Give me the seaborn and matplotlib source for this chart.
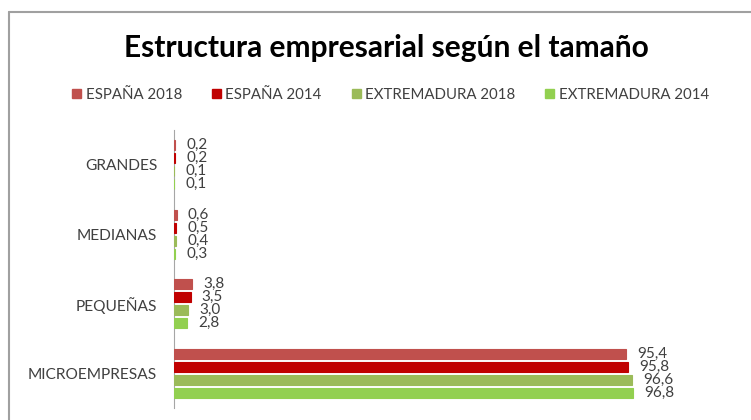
import pandas as pd
import matplotlib
matplotlib.use('Agg')
import matplotlib.pyplot as plt
import seaborn as sns
from matplotlib.lines import Line2D

# Datos
categorias = ['GRANDES', 'MEDIANAS', 'PEQUEÑAS', 'MICROEMPRESAS']
series = ['ESPAÑA 2018', 'ESPAÑA 2014', 'EXTREMADURA 2018', 'EXTREMADURA 2014']
espana_2018 = [0.2, 0.6, 3.8, 95.4]
espana_2014 = [0.2, 0.5, 3.5, 95.8]
extremadura_2018 = [0.1, 0.4, 3.0, 96.6]
extremadura_2014 = [0.1, 0.3, 2.8, 96.8]
colores = ['#C0504D', '#C00000', '#9BBB59', '#92D050']

valores = [espana_2018, espana_2014, extremadura_2018, extremadura_2014]
filas = []
for serie, vals in zip(series, valores):
    for cat, v in zip(categorias, vals):
        filas.append({'tamano': cat, 'serie': serie, 'valor': v})
df = pd.DataFrame(filas)

sns.set_style('white')
plt.rcParams['font.family'] = ['Lato', 'DejaVu Sans']

fig = plt.figure(figsize=(7.51, 4.20), dpi=100)
ax = fig.add_axes([174 / 751, 1 - 408 / 420, 474 / 751, (408 - 130) / 420])

sns.barplot(data=df, y='tamano', x='valor', hue='serie', order=categorias,
            hue_order=series, palette=colores, orient='h', width=0.75,
            gap=0.25, ax=ax, saturation=1, legend=False)

# borde del mismo color para que las barras pequeñas se vean
for p in ax.patches:
    p.set_edgecolor(p.get_facecolor())
    p.set_linewidth(0.8)
    p.set_zorder(3)

ax.set_xlim(0, 100)
ax.set_xlabel('')
ax.set_ylabel('')
ax.set_xticks([])
for s in ['top', 'right', 'bottom']:
    ax.spines[s].set_visible(False)
ax.spines['left'].set_color('#A6A6A6')
ax.spines['left'].set_zorder(2)
ax.tick_params(axis='y', length=0, pad=12, labelsize=11.2, labelcolor='#404040')

# etiquetas de valores
for cont in ax.containers:
    etiquetas = [f'{b.get_width():.1f}'.replace('.', ',') for b in cont]
    ax.bar_label(cont, labels=etiquetas, padding=8, fontsize=11, color='#404040')

# título y leyenda
fig.text(0.515, 1 - 48 / 420, 'Estructura empresarial según el tamaño', ha='center',
         va='center', fontsize=21.5, fontweight='bold', color='black')
handles = [plt.Rectangle((0, 0), 1, 1, color=c) for c in colores]
fig.legend(handles, series, loc='center', bbox_to_anchor=(0.52, 1 - 95 / 420),
           ncol=4, frameon=False, fontsize=10.8, handlelength=0.6, handleheight=0.6,
           handletextpad=0.3, columnspacing=2.0, labelcolor='#404040')

# marco del área del gráfico
fig.add_artist(Line2D([9 / 751, 9 / 751], [0, 1 - 12 / 420], color='#A0A0A0', lw=1.5))
fig.add_artist(Line2D([9 / 751, 1], [1 - 12 / 420, 1 - 12 / 420], color='#A0A0A0', lw=1.5))

fig.savefig('out.png', dpi=100)
